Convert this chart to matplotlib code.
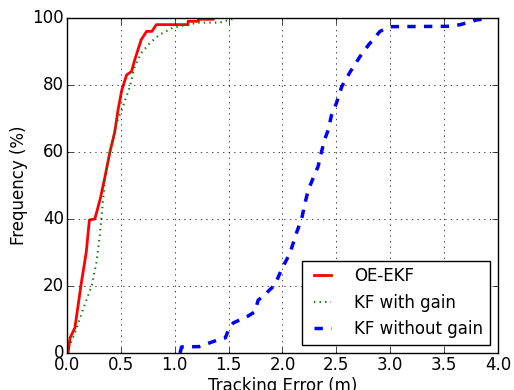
import numpy as np
import matplotlib
matplotlib.use("Agg")
import matplotlib.pyplot as plt

# values (tracking error in m, cumulative frequency in %)
ekf_x = [0.0, 0.012, 0.03, 0.075, 0.135, 0.18, 0.20, 0.21, 0.26, 0.31, 0.35, 0.40, 0.445,
         0.475, 0.51, 0.555, 0.60, 0.63, 0.66, 0.69, 0.74, 0.79, 0.83, 1.125, 1.125,
         1.22, 1.22, 1.36, 1.36]
ekf_y = [0, 0, 4.5, 7.5, 21, 30, 36.7, 39.7, 40, 46, 52, 60, 66,
         72.5, 78.5, 83, 84, 87.5, 90.5, 93.5, 96, 96, 98, 98, 99,
         99, 99.6, 99.6, 100]

kfg_x = [0.0, 0.075, 0.15, 0.23, 0.275, 0.305, 0.32, 0.355, 0.40, 0.46, 0.52, 0.585,
         0.63, 0.69, 0.77, 0.86, 0.98, 1.11, 1.23, 1.42, 1.48, 1.57]
kfg_y = [0, 6, 13, 20, 27, 35, 40, 52, 60, 68.5, 73.5, 79.5,
         85.5, 89.5, 92.5, 95, 97, 98, 98.6, 98.6, 99.2, 100]

kfn_x = [1.05, 1.065, 1.23, 1.40, 1.47, 1.50, 1.545, 1.67, 1.745, 1.775, 1.82, 1.88,
         1.93, 1.99, 2.07, 2.13, 2.18, 2.21, 2.24, 2.29, 2.33, 2.36, 2.39, 2.425,
         2.455, 2.50, 2.55, 2.63, 2.72, 2.80, 2.905, 3.0, 3.55, 3.65, 3.80, 3.85]
kfn_y = [0, 1.8, 1.9, 3.9, 4.5, 6.9, 9, 10.8, 12.3, 15.8, 16.8, 18.8,
         20.3, 24.8, 29.8, 35.8, 40.3, 44.8, 48.7, 52.6, 55.6, 59.7, 63.6, 66.6,
         71, 74.5, 79.5, 84, 88.5, 92, 96, 97.4, 97.5, 98, 99.4, 99.6]

labels = ["OE-EKF", "KF with gain", "KF without gain"]
xticks = np.arange(0, 4.01, 0.5)
yticks = [0, 20, 40, 60, 80, 100]

plt.style.use("classic")
plt.rcParams["font.family"] = "DejaVu Sans"

fig = plt.figure(figsize=(5.14, 3.9), dpi=100, facecolor="white")
ax = fig.add_axes([0.130, 0.095, 0.839, 0.859])

ax.plot(ekf_x, ekf_y, color="red", linestyle="-", linewidth=2, label=labels[0])
ax.plot(kfg_x, kfg_y, color="green", linestyle=":", linewidth=1.5, label=labels[1])
ax.plot(kfn_x, kfn_y, color="blue", linestyle="--", linewidth=2.5, label=labels[2])

ax.set_xlim(0, 4)
ax.set_ylim(0, 100)
ax.set_xticks(xticks)
ax.set_xticklabels(["%.1f" % t for t in xticks])
ax.set_yticks(yticks)
ax.tick_params(pad=2)
ax.grid(True, color="black", linestyle=":", linewidth=0.5)
ax.set_xlabel("Tracking Error (m)", labelpad=2)
ax.set_ylabel("Frequency (%)", labelpad=3)
ax.legend(loc="lower right", fontsize=12, handlelength=1.6, handletextpad=1.1)

fig.savefig("out.png", dpi=100, facecolor="white")
